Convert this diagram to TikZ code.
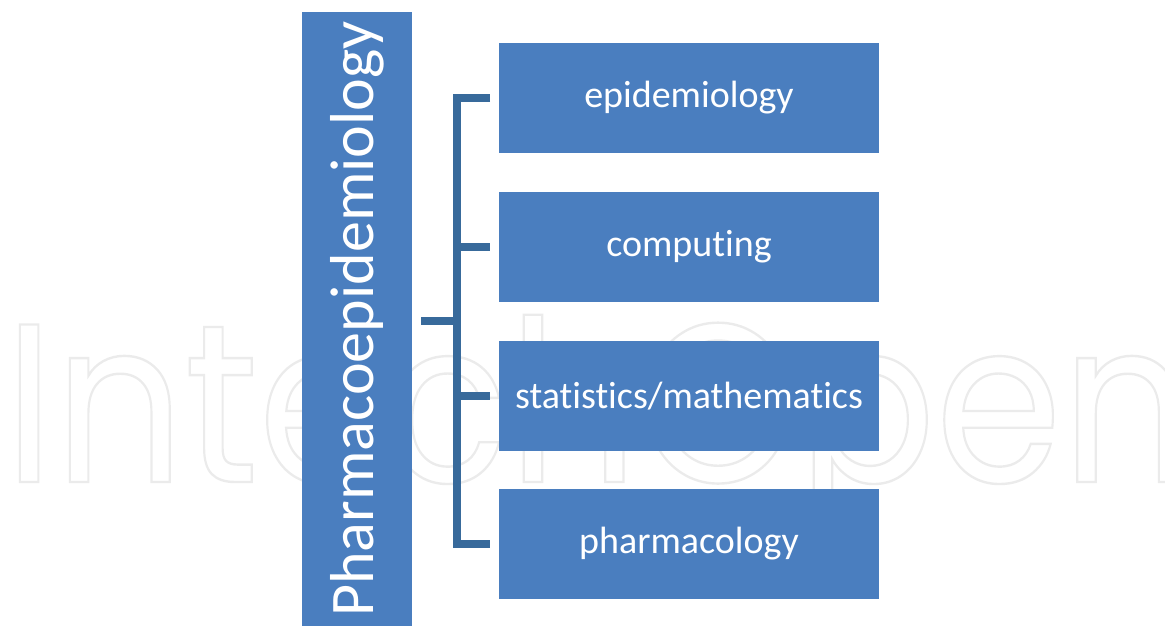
\documentclass[tikz,border=0pt]{standalone}
\usepackage{fontspec}
\setmainfont{Carlito}[RawFeature={-liga;-clig;-calt;-dlig}]
\newfontfamily\markfont{Poppins}
\usepackage{xcolor}
\usepackage{tikz}
\usetikzlibrary{positioning}
\definecolor{PEBox}{HTML}{4A7EBF}
\definecolor{PELine}{HTML}{386A9B}
\definecolor{PEMark}{HTML}{EBEBEB}

\begin{document}
\begin{tikzpicture}[x=1pt,y=-1pt,
  topic/.style={fill=PEBox,text=white,inner sep=0pt,outer sep=0pt,minimum width=380pt,minimum height=110pt,font=\fontsize{38}{44}\selectfont},
  brace/.style={PELine,line width=8pt}]
\useasboundingbox (0,0) rectangle (1165,626);
% watermark
\node[anchor=base west,inner sep=0pt,text=PEMark,font=\markfont\fontsize{226}{226}\selectfont,xscale=0.9] (mark) at (4,482) {\special{pdf:literal direct 1 Tr 2.4 w}IntechOpen\special{pdf:literal direct 0 Tr}};
\node[fill=PEBox,text=white,inner sep=0pt,outer sep=0pt,minimum width=110pt,minimum height=614pt,font=\fontsize{62}{70}\selectfont] (pharm) at (357,319) {\rotatebox{90}{Pharmacoepidemiology}};
\node[topic] (epi) at (689,98) {epidemiology};
\node[topic,below=39pt of epi] (comp) {computing};
\node[topic,below=39pt of comp] (stat) {statistics/mathematics};
\node[topic,below=38pt of stat] (phar) {pharmacology};
\coordinate (jn) at (457,321);
\draw[brace] ([xshift=-9pt]epi.west) -- (jn |- epi) -- (jn |- phar) -- ([xshift=-9pt]phar.west);
\draw[brace] (jn |- comp) -- ([xshift=-9pt]comp.west);
\draw[brace] (jn |- stat) -- ([xshift=-9pt]stat.west);
\draw[brace] ([xshift=9pt]pharm.east |- jn) -- (jn);
\end{tikzpicture}
\end{document}
